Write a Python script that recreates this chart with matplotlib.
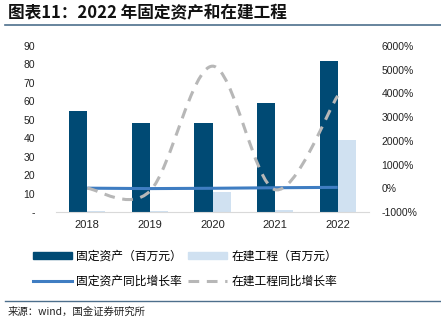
import matplotlib
matplotlib.use("Agg")
import matplotlib.pyplot as plt
import numpy as np
from matplotlib.path import Path
from matplotlib.patches import PathPatch, Patch
from matplotlib.lines import Line2D
from matplotlib.ticker import FuncFormatter

plt.rcParams['font.family'] = ['Liberation Sans', 'Noto Sans CJK SC', 'DejaVu Sans']

years = ['2018', '2019', '2020', '2021', '2022']
fixed_assets = [55, 48, 48, 59, 82]          # 百万元
construction = [0.3, 0.8, 11, 1.2, 39]        # 百万元
fixed_growth = [5, -13, 0, 23, 39]            # %
constr_growth = [0, -120, 5150, -60, 3900]    # %

C_DARK = '#004a74'
C_LIGHT = '#d0e1f1'
C_BLUE = '#3f7dc2'
C_GRAY = '#b7b7b7'

fig = plt.figure(figsize=(4.41, 3.23), dpi=100)
W, H = 441, 323
ax = fig.add_axes([56 / W, 1 - 212 / H, (369 - 56) / W, (212 - 46) / H])
ax2 = ax.twinx()

x = np.arange(len(years))
bw = 0.29
ax.bar(x - bw / 2, fixed_assets, bw, color=C_DARK, zorder=2)
ax.bar(x + bw / 2, construction, bw, color=C_LIGHT, zorder=2)
ax.set_xlim(-0.5, len(years) - 0.5)
ax.set_ylim(0, 90)
ax.set_yticks(np.arange(0, 91, 10))
ax.yaxis.set_major_formatter(FuncFormatter(lambda v, p: '-' if v == 0 else f'{int(v)}'))
ax.set_xticks(x)
ax.set_xticklabels(years)

ax2.set_ylim(-1000, 6000)
ax2.set_yticks(np.arange(-1000, 6001, 1000))
ax2.yaxis.set_major_formatter(FuncFormatter(lambda v, p: f'{int(v)}%'))

for a in (ax, ax2):
    for s in ('top', 'left', 'right'):
        a.spines[s].set_visible(False)
    a.spines['bottom'].set_color('#d9d9d9')
    a.tick_params(length=0, labelsize=7.5, colors='#222222')
ax2.spines['bottom'].set_visible(False)
ax.tick_params(axis='x', pad=6, labelsize=8)
ax.tick_params(axis='y', pad=15)
ax2.tick_params(axis='y', pad=9)


def smooth_path(xs, ys):
    pts = np.column_stack([xs, ys]).astype(float)
    n = len(pts)
    verts = [pts[0]]
    codes = [Path.MOVETO]
    for i in range(n - 1):
        p0 = pts[i - 1] if i > 0 else pts[i]
        p1 = pts[i]
        p2 = pts[i + 1]
        p3 = pts[i + 2] if i + 2 < n else pts[i + 1]
        c1 = p1 + (p2 - p0) / 6
        c2 = p2 - (p3 - p1) / 6
        verts += [c1, c2, p2]
        codes += [Path.CURVE4] * 3
    return Path(verts, codes)


ax2.plot(x, fixed_growth, color=C_BLUE, lw=2.2, zorder=3, solid_capstyle='butt')
pp = PathPatch(smooth_path(x, constr_growth), fill=False, edgecolor=C_GRAY,
               lw=2.2, linestyle=(0, (3.5, 2.5)), zorder=3)
ax2.add_patch(pp)

# legend (column-major fill: dark, blue | light, gray)
cjk = ['Noto Sans CJK SC', 'DejaVu Sans']
h_dark = Patch(color=C_DARK)
h_light = Patch(color=C_LIGHT)
h_blue = Line2D([], [], color=C_BLUE, lw=2.2)
h_gray = Line2D([], [], color=C_GRAY, lw=2.2, linestyle=(0, (3.5, 2.5)))
handles = [h_dark, h_blue, h_light, h_gray]
labels = ['固定资产（百万元）', '固定资产同比增长率', '在建工程（百万元）', '在建工程同比增长率']
leg = fig.legend(handles, labels, ncol=2, loc='upper left',
                 bbox_to_anchor=(22 / W, 1 - 239 / H), frameon=False,
                 prop={'family': cjk, 'size': 8.5}, handlelength=3.3,
                 handleheight=0.55, columnspacing=0.5, handletextpad=0.4,
                 labelspacing=1.05)

# title
fig.text(8 / W, 1 - 13 / H, '图表11：2022 年固定资产和在建工程', family=cjk,
         fontsize=12, fontweight='bold', fontstyle='italic', va='center', ha='left',
         color='#111111')
fig.add_artist(Line2D([5 / W, 1], [1 - 24.5 / H] * 2, color='#4d6f8c', lw=1.2))
fig.add_artist(Line2D([5 / W, 1], [1 - 301 / H] * 2, color='#4d6f8c', lw=1.0))
fig.text(8 / W, 1 - 312 / H, '来源：wind，国金证券研究所', family=cjk,
         fontsize=7.5, va='center', ha='left', color='#222222')

fig.savefig('out.png', dpi=100)
